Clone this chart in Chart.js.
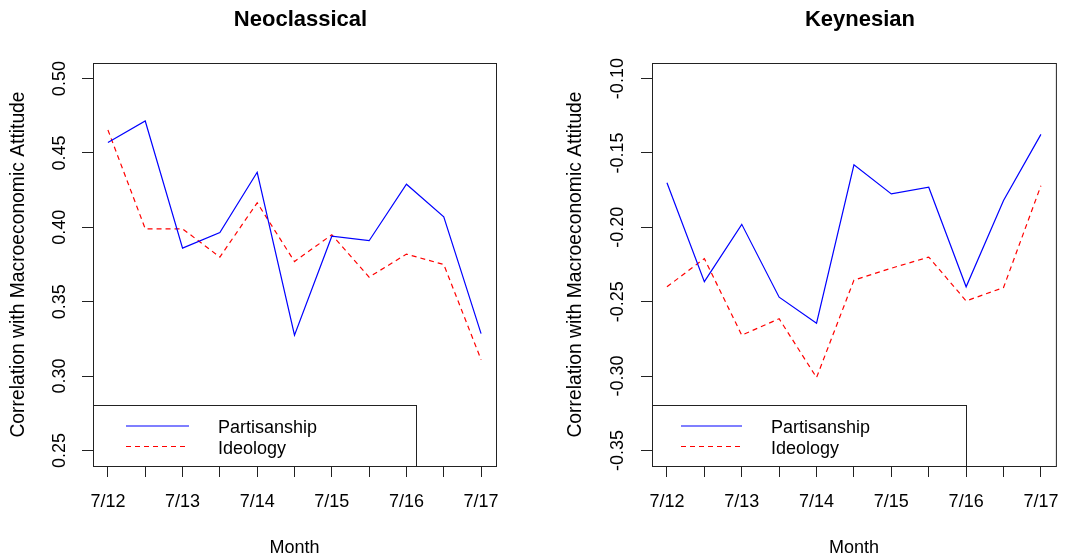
<!DOCTYPE html>
<html>
<head>
<meta charset="utf-8">
<script src="https://cdn.jsdelivr.net/npm/chart.js@4.4.0/dist/chart.umd.min.js"></script>
<style>
  body { margin: 0; background: #fff; }
  .panel { position: absolute; top: 0; height: 559px; }
</style>
</head>
<body>
<div class="panel" style="left:0;width:536px"><canvas id="neoChart" width="536" height="559"></canvas></div>
<div class="panel" style="left:536px;width:537px"><canvas id="keyChart" width="537" height="559"></canvas></div>
<script>
// survey waves, two per year; only every other one gets a label
const periods = [1, 2, 3, 4, 5, 6, 7, 8, 9, 10, 11];
const monthLabels = ['7/12', '7/13', '7/14', '7/15', '7/16', '7/17'];

const neoPartisanship = [0.457, 0.4715, 0.386, 0.3965, 0.437, 0.3275, 0.394, 0.391, 0.429, 0.407, 0.3285];
const neoIdeology = [0.4655, 0.399, 0.399, 0.380, 0.4165, 0.377, 0.395, 0.3665, 0.382, 0.375, 0.311];
const keyPartisanship = [-0.170, -0.2365, -0.198, -0.247, -0.2645, -0.158, -0.1775, -0.173, -0.240, -0.182, -0.1375];
const keyIdeology = [-0.240, -0.221, -0.2725, -0.2615, -0.301, -0.2355, -0.2275, -0.220, -0.2495, -0.2405, -0.172];

const FONT = 'Liberation Sans, Arial, sans-serif';

function toPoints(values) {
  return values.map((v, i) => ({ x: periods[i], y: v }));
}

// plot frame, panel title and the boxed legend in the lower left corner
const panelDecor = {
  id: 'panelDecor',
  afterDraw(chart, args, opts) {
    const { ctx, chartArea: a } = chart;
    ctx.save();
    ctx.strokeStyle = '#222';
    ctx.lineWidth = 1;
    ctx.strokeRect(a.left + 0.5, a.top + 0.5, a.right - a.left, a.bottom - a.top);

    ctx.fillStyle = '#000';
    ctx.font = 'bold 22px ' + FONT;
    ctx.textAlign = 'center';
    ctx.textBaseline = 'alphabetic';
    ctx.fillText(opts.title, (a.left + a.right) / 2 + opts.titleShift, 26);

    const lg = opts.legend;
    ctx.strokeRect(a.left + 0.5, a.bottom - 61 + 0.5, lg.width, 61);
    ctx.font = '18px ' + FONT;
    ctx.textAlign = 'left';
    chart.data.datasets.forEach((ds, i) => {
      const ly = a.bottom - 40 + i * 20.5;
      ctx.strokeStyle = ds.borderColor;
      ctx.lineWidth = ds.borderWidth;
      ctx.setLineDash(ds.borderDash || []);
      ctx.beginPath();
      ctx.moveTo(a.left + lg.lineStart, ly);
      ctx.lineTo(a.left + lg.lineEnd, ly);
      ctx.stroke();
      ctx.setLineDash([]);
      ctx.fillStyle = '#000';
      ctx.fillText(ds.label, a.left + lg.textX, ly + 7);
    });
    ctx.restore();
  }
};

function makePanel(id, cfg) {
  return new Chart(document.getElementById(id), {
    type: 'line',
    data: {
      datasets: [{
        label: 'Partisanship',
        data: toPoints(cfg.partisanship),
        borderColor: '#0000ff',
        borderWidth: 1.2,
        pointRadius: 0,
        tension: 0
      }, {
        label: 'Ideology',
        data: toPoints(cfg.ideology),
        borderColor: '#ff0000',
        borderWidth: 1.2,
        borderDash: [5, 4],
        pointRadius: 0,
        tension: 0
      }]
    },
    options: {
      responsive: false,
      animation: false,
      layout: { padding: { top: 63, right: cfg.rightPad, bottom: 0, left: 0 } },
      plugins: {
        legend: { display: false },
        tooltip: { enabled: false },
        panelDecor: { title: cfg.title, titleShift: 6, legend: cfg.legend }
      },
      scales: {
        x: {
          type: 'linear',
          min: 0.6,
          max: 11.4,
          afterFit(scale) { scale.height = 93; },
          border: { display: false },
          grid: { drawOnChartArea: false, tickLength: 11, color: '#222', tickWidth: 1 },
          ticks: {
            stepSize: 1,
            includeBounds: false,
            autoSkip: false,
            maxRotation: 0,
            padding: 14,
            color: '#000',
            font: { family: FONT, size: 18 },
            callback: v => (v % 2 === 1 ? monthLabels[(v - 1) / 2] : '')
          },
          title: {
            display: true,
            text: 'Month',
            color: '#000',
            font: { family: FONT, size: 18 },
            padding: { top: 0, bottom: 0 }
          }
        },
        y: {
          min: cfg.yMin,
          max: cfg.yMax,
          afterFit(scale) { scale.width = cfg.yWidth; },
          border: { display: false },
          grid: { drawOnChartArea: false, tickLength: 11, color: '#222', tickWidth: 1 },
          ticks: {
            stepSize: 0.05,
            includeBounds: false,
            autoSkip: false,
            minRotation: 90,
            maxRotation: 90,
            crossAlign: 'center',
            padding: cfg.tickPad,
            color: '#000',
            font: { family: FONT, size: 18 },
            callback: v => v.toFixed(2)
          },
          title: {
            display: true,
            text: 'Correlation with Macroeconomic Attitude',
            color: '#000',
            font: { family: FONT, size: 19.3 },
            padding: { top: cfg.titlePad, bottom: 0 }
          }
        }
      }
    },
    plugins: [panelDecor]
  });
}

makePanel('neoChart', {
  title: 'Neoclassical',
  partisanship: neoPartisanship,
  ideology: neoIdeology,
  yMin: 0.2395,
  yMax: 0.5105,
  yWidth: 93,
  rightPad: 40,
  tickPad: 4,
  titlePad: 6.8,
  legend: { width: 323, lineStart: 33, lineEnd: 96, textX: 125 }
});

makePanel('keyChart', {
  title: 'Keynesian',
  partisanship: keyPartisanship,
  ideology: keyIdeology,
  yMin: -0.3605,
  yMax: -0.0895,
  yWidth: 116,
  rightPad: 15,
  tickPad: 2,
  titlePad: 28,
  legend: { width: 314, lineStart: 29, lineEnd: 90, textX: 119 }
});
</script>
</body>
</html>
